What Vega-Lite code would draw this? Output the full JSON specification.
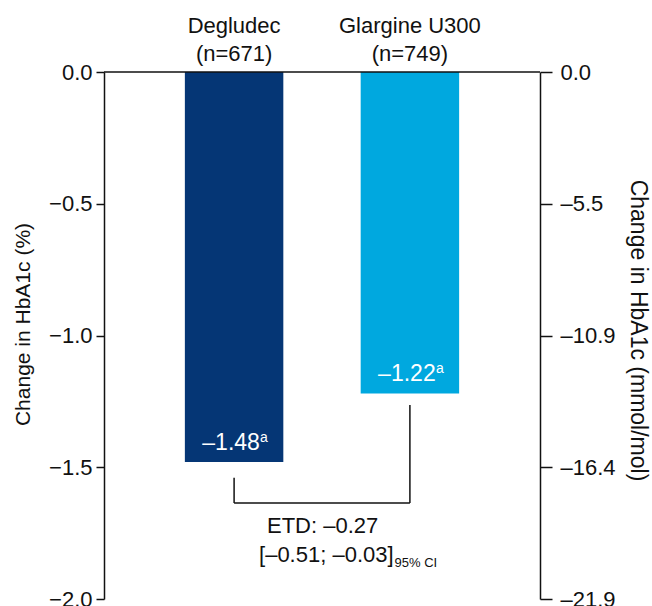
{
  "$schema": "https://vega.github.io/schema/vega-lite/v6.json",
  "width": 436,
  "height": 527,
  "autosize": "none",
  "padding": {"left": 104, "top": 72, "right": 112, "bottom": 7},
  "background": "white",
  "config": {
    "font": "Liberation Sans",
    "view": {"stroke": null},
    "axis": {
      "labelFont": "Liberation Sans",
      "titleFont": "Liberation Sans",
      "labelColor": "#111111",
      "titleColor": "#111111",
      "domainColor": "#111111",
      "tickColor": "#111111",
      "grid": false,
      "titleFontWeight": "normal"
    }
  },
  "datasets": {
    "bars": [
      {"group": "Degludec", "n": "(n=671)", "value": -1.48, "label": "–1.48"},
      {"group": "Glargine U300", "n": "(n=749)", "value": -1.22, "label": "–1.22"}
    ],
    "bracketV": [
      {"group": "Degludec", "top": -1.54, "bottom": -1.636},
      {"group": "Glargine U300", "top": -1.264, "bottom": -1.636}
    ],
    "bracketH": [
      {"group": "Degludec", "to": "Glargine U300", "y": -1.636}
    ],
    "etd": [{"group": "Degludec", "y": -1.7495, "t": "ETD: –0.27"}],
    "ci": [{"group": "Degludec", "y": -1.8596, "t": "[–0.51; –0.03]"}],
    "cisub": [{"group": "Degludec", "y": -1.8786, "t": "95% CI"}],
    "zero": [{"v": 0}]
  },
  "layer": [
    {
      "data": {"name": "bars"},
      "mark": {"type": "bar"},
      "encoding": {
        "x": {
          "field": "group",
          "type": "nominal",
          "sort": null,
          "scale": {"domain": ["Degludec", "Glargine U300"], "paddingInner": 0.44, "paddingOuter": 0.46},
          "axis": {
            "orient": "top",
            "title": null,
            "domain": false,
            "ticks": false,
            "tickSize": 0,
            "labelAngle": 0,
            "labelFontSize": 22,
            "labelBaseline": "alphabetic",
            "labelPadding": 40,
            "labelLineHeight": 28,
            "labelExpr": "[datum.value, datum.value == 'Degludec' ? '(n=671)' : '(n=749)']"
          }
        },
        "y": {
          "field": "value",
          "type": "quantitative",
          "scale": {"domain": [-2, 0], "nice": false, "zero": true},
          "axis": {
            "orient": "left",
            "title": "Change in HbA1c (%)",
            "values": [0, -0.5, -1, -1.5, -2],
            "labelExpr": "replace(format(datum.value, '.1f'), '-', '–')",
            "tickSize": 8,
            "labelPadding": 4,
            "labelFontSize": 22,
            "titleFontSize": 21,
            "titleBaseline": "middle",
            "titleX": -81,
            "titleY": 252,
            "domainWidth": 1.5,
            "tickWidth": 1.5
          }
        },
        "color": {
          "field": "group",
          "type": "nominal",
          "scale": {"domain": ["Degludec", "Glargine U300"], "range": ["#053675", "#00a8df"]},
          "legend": null
        }
      }
    },
    {
      "data": {"name": "zero"},
      "mark": {"type": "rule", "color": "#111111", "strokeWidth": 1.5},
      "encoding": {
        "y": {
          "field": "v",
          "type": "quantitative",
          "scale": {"domain": [-2, 0], "nice": false},
          "axis": {
            "orient": "right",
            "title": "Change in HbA1c (mmol/mol)",
            "values": [0, -0.5, -1, -1.5, -2],
            "labelExpr": "datum.value == 0 ? '0.0' : datum.value == -0.5 ? '–5.5' : datum.value == -1 ? '–10.9' : datum.value == -1.5 ? '–16.4' : '–21.9'",
            "tickSize": 12,
            "labelPadding": 8,
            "labelFontSize": 22,
            "titleFontSize": 23,
            "titleBaseline": "middle",
            "titleX": 97,
            "titleY": 258,
            "domainWidth": 1.5,
            "tickWidth": 1.5
          }
        }
      }
    },
    {
      "data": {"name": "bars"},
      "mark": {"type": "text", "color": "white", "fontSize": 23, "baseline": "alphabetic", "align": "center", "dx": -3, "dy": -12},
      "encoding": {
        "x": {"field": "group", "type": "nominal"},
        "y": {"field": "value", "type": "quantitative", "axis": null},
        "text": {"field": "label"}
      }
    },
    {
      "data": {"name": "bars"},
      "mark": {"type": "text", "color": "white", "fontSize": 14, "baseline": "alphabetic", "align": "left", "dx": 26, "dy": -20},
      "encoding": {
        "x": {"field": "group", "type": "nominal"},
        "y": {"field": "value", "type": "quantitative", "axis": null},
        "text": {"value": "a"}
      }
    },
    {
      "data": {"name": "bracketV"},
      "mark": {"type": "rule", "color": "#111111", "strokeWidth": 1.5},
      "encoding": {
        "x": {"field": "group", "type": "nominal"},
        "y": {"field": "top", "type": "quantitative", "axis": null},
        "y2": {"field": "bottom"}
      }
    },
    {
      "data": {"name": "bracketH"},
      "mark": {"type": "rule", "color": "#111111", "strokeWidth": 1.5},
      "encoding": {
        "x": {"field": "group", "type": "nominal"},
        "x2": {"field": "to"},
        "y": {"field": "y", "type": "quantitative", "axis": null}
      }
    },
    {
      "data": {"name": "etd"},
      "mark": {"type": "text", "color": "#111111", "fontSize": 22, "baseline": "alphabetic", "align": "center", "dx": 88.5},
      "encoding": {
        "x": {"field": "group", "type": "nominal"},
        "y": {"field": "y", "type": "quantitative", "axis": null},
        "text": {"field": "t"}
      }
    },
    {
      "data": {"name": "ci"},
      "mark": {"type": "text", "color": "#111111", "fontSize": 22, "baseline": "alphabetic", "align": "right", "dx": 159.5},
      "encoding": {
        "x": {"field": "group", "type": "nominal"},
        "y": {"field": "y", "type": "quantitative", "axis": null},
        "text": {"field": "t"}
      }
    },
    {
      "data": {"name": "cisub"},
      "mark": {"type": "text", "color": "#111111", "fontSize": 13, "baseline": "alphabetic", "align": "left", "dx": 160.5},
      "encoding": {
        "x": {"field": "group", "type": "nominal"},
        "y": {"field": "y", "type": "quantitative", "axis": null},
        "text": {"field": "t"}
      }
    }
  ],
  "resolve": {"axis": {"y": "independent"}}
}
